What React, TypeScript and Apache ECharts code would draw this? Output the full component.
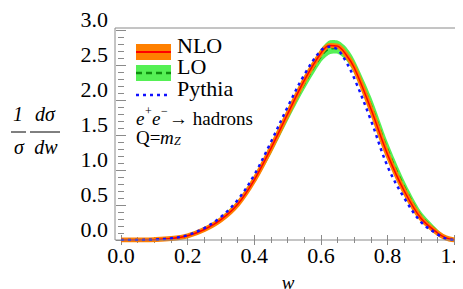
import React, { useEffect, useRef } from "react";
import * as echarts from "echarts";

const W = [0, 0.05, 0.1, 0.15, 0.2, 0.25, 0.3, 0.35, 0.4, 0.45, 0.5, 0.55, 0.6, 0.625, 0.65, 0.675, 0.7, 0.75, 0.8, 0.85, 0.9, 0.95, 0.975, 1];
const NLO = [0, 0.001, 0.005, 0.02, 0.06, 0.15, 0.29, 0.51, 0.86, 1.31, 1.8, 2.28, 2.67, 2.78, 2.77, 2.65, 2.46, 1.87, 1.22, 0.7, 0.31, 0.1, 0.03, 0];
const LO = [0, 0.001, 0.005, 0.022, 0.065, 0.16, 0.3, 0.52, 0.86, 1.29, 1.77, 2.23, 2.62, 2.73, 2.74, 2.65, 2.47, 1.93, 1.29, 0.76, 0.35, 0.12, 0.04, 0];
const LO_LOW = [0, 0.001, 0.004, 0.018, 0.055, 0.14, 0.27, 0.48, 0.81, 1.23, 1.7, 2.15, 2.54, 2.65, 2.66, 2.57, 2.38, 1.85, 1.21, 0.7, 0.31, 0.1, 0.03, 0];
const LO_HIGH = [0, 0.001, 0.007, 0.028, 0.08, 0.18, 0.33, 0.56, 0.9, 1.34, 1.84, 2.32, 2.73, 2.85, 2.85, 2.76, 2.58, 2.05, 1.4, 0.85, 0.41, 0.15, 0.05, 0];
const PYTHIA = [0, 0.001, 0.006, 0.025, 0.07, 0.17, 0.33, 0.57, 0.93, 1.4, 1.9, 2.36, 2.71, 2.76, 2.72, 2.55, 2.31, 1.71, 1.05, 0.6, 0.26, 0.08, 0.02, 0];
const LEGEND = ["NLO", "LO", "Pythia"];

const SERIF = "Liberation Serif";
const FRAME = "#8a8a8a";

const pair = (ys: number[]) => W.map((w, i) => [w, ys[i]]);

export default function App() {
  const ref = useRef<HTMLDivElement>(null);
  useEffect(() => {
    if (!ref.current) return;
    const chart = echarts.init(ref.current, undefined, { renderer: "svg" });
    const tickCommon = {
      axisLine: { show: false },
      axisTick: { show: true, inside: true, length: 5, lineStyle: { color: FRAME } },
      minorTick: { show: true, length: 3, lineStyle: { color: FRAME } },
      splitLine: { show: false },
    };
    const smooth = 0.35;
    const txt = (x: number, y: number, text: string, size: number, italic = false, align = "left") => {
      const style: any = { text, fill: "#000", align, verticalAlign: "middle", fontFamily: SERIF, fontSize: size };
      if (italic) style.fontStyle = "italic";
      return { type: "text", x, y: y - 7, style };
    };
    chart.setOption({
      animation: false,
      grid: { left: 113, right: 15, top: 21, bottom: 57, containLabel: false },
      xAxis: [
        {
          type: "value", min: 0, max: 1, interval: 0.2, position: "bottom",
          ...tickCommon,
          minorTick: { ...tickCommon.minorTick, splitNumber: 4 },
          axisLabel: { fontFamily: SERIF, fontSize: 22, color: "#000", margin: 4, formatter: (v: number) => v.toFixed(1) },
        },
        {
          type: "value", min: 0, max: 1, interval: 0.2, position: "top", offset: 1,
          ...tickCommon,
          minorTick: { ...tickCommon.minorTick, splitNumber: 4 },
          axisLabel: { show: false },
        },
      ],
      yAxis: [
        {
          type: "value", min: 0, max: 3, interval: 0.5, position: "left", offset: 6,
          ...tickCommon,
          minorTick: { ...tickCommon.minorTick, splitNumber: 5 },
          axisLabel: {
            fontFamily: SERIF, fontSize: 22, lineHeight: 22, color: "#000", margin: 7, verticalAlign: "bottom",
            formatter: (v: number) => v.toFixed(1),
          },
        },
        {
          type: "value", min: 0, max: 3, interval: 0.5, position: "right", offset: 3,
          ...tickCommon,
          minorTick: { ...tickCommon.minorTick, splitNumber: 5 },
          axisLabel: { show: false },
        },
      ],
      series: [
        {
          type: "custom", data: [0], silent: true, z: 1,
          renderItem: (params: any, api: any) => {
            const up = W.map((w, i) => api.coord([w, LO_HIGH[i]]));
            const down = W.map((w, i) => api.coord([w, LO_LOW[i]])).reverse();
            return {
              type: "polygon",
              shape: { points: up.concat(down), smooth: 0.25 },
              style: { fill: "#55f055", stroke: "none" },
            };
          },
        },
        { name: "LO", type: "line", data: pair(LO), showSymbol: false, smooth, lineStyle: { color: "#0f8f0f", width: 2, type: [6, 4] } },
        { type: "line", data: pair(NLO), showSymbol: false, smooth, lineStyle: { color: "#ff8000", width: 5 } },
        { name: "NLO", type: "line", data: pair(NLO), showSymbol: false, smooth, lineStyle: { color: "#ff0000", width: 1.5 } },
        { name: "Pythia", type: "line", data: pair(PYTHIA), showSymbol: false, smooth, lineStyle: { color: "#1010ff", width: 2.5, type: [3, 4] } },
      ],
      graphic: [
        { type: "rect", shape: { x: 107, y: 20, width: 344, height: 212 }, style: { fill: "none", stroke: FRAME, lineWidth: 1 }, z: 10 },
        // legend
        { type: "rect", shape: { x: 128, y: 36, width: 35, height: 16 }, style: { fill: "#ff8000" } },
        { type: "line", shape: { x1: 128, y1: 44, x2: 163, y2: 44 }, style: { stroke: "#ff0000", lineWidth: 2 } },
        { type: "rect", shape: { x: 128, y: 57, width: 35, height: 16 }, style: { fill: "#55f055" } },
        { type: "line", shape: { x1: 128, y1: 65, x2: 163, y2: 65 }, style: { stroke: "#0f8f0f", lineWidth: 2.5, lineDash: [6, 4] } },
        { type: "line", shape: { x1: 128, y1: 87, x2: 161, y2: 87 }, style: { stroke: "#1010ff", lineWidth: 2.5, lineDash: [3, 4] } },
        txt(169, 44, LEGEND[0], 22),
        txt(169, 65, LEGEND[1], 22),
        txt(169, 87, LEGEND[2], 22),
        // annotation
        txt(128, 117, "e", 19, true),
        txt(137, 110, "+", 12),
        txt(144, 117, "e", 19, true),
        txt(153, 110, "−", 12),
        txt(161, 117, "→ hadrons", 19),
        txt(128, 136, "Q=", 19),
        txt(152, 136, "m", 19, true),
        txt(166, 140, "Z", 12, true),
        // y-axis label
        txt(10, 113, "1", 20, true, "center"),
        { type: "line", shape: { x1: 3, y1: 124, x2: 18, y2: 124 }, style: { stroke: "#000", lineWidth: 1 } },
        txt(11, 146, "σ", 20, true, "center"),
        txt(37, 113, "dσ", 20, true, "center"),
        { type: "line", shape: { x1: 22, y1: 124, x2: 52, y2: 124 }, style: { stroke: "#000", lineWidth: 1 } },
        txt(38, 146, "dw", 20, true, "center"),
        // x-axis label
        txt(280, 281, "w", 19, true, "center"),
      ],
    });
    return () => chart.dispose();
  }, []);
  return <div ref={ref} style={{ width: 463, height: 289 }} />;
}
